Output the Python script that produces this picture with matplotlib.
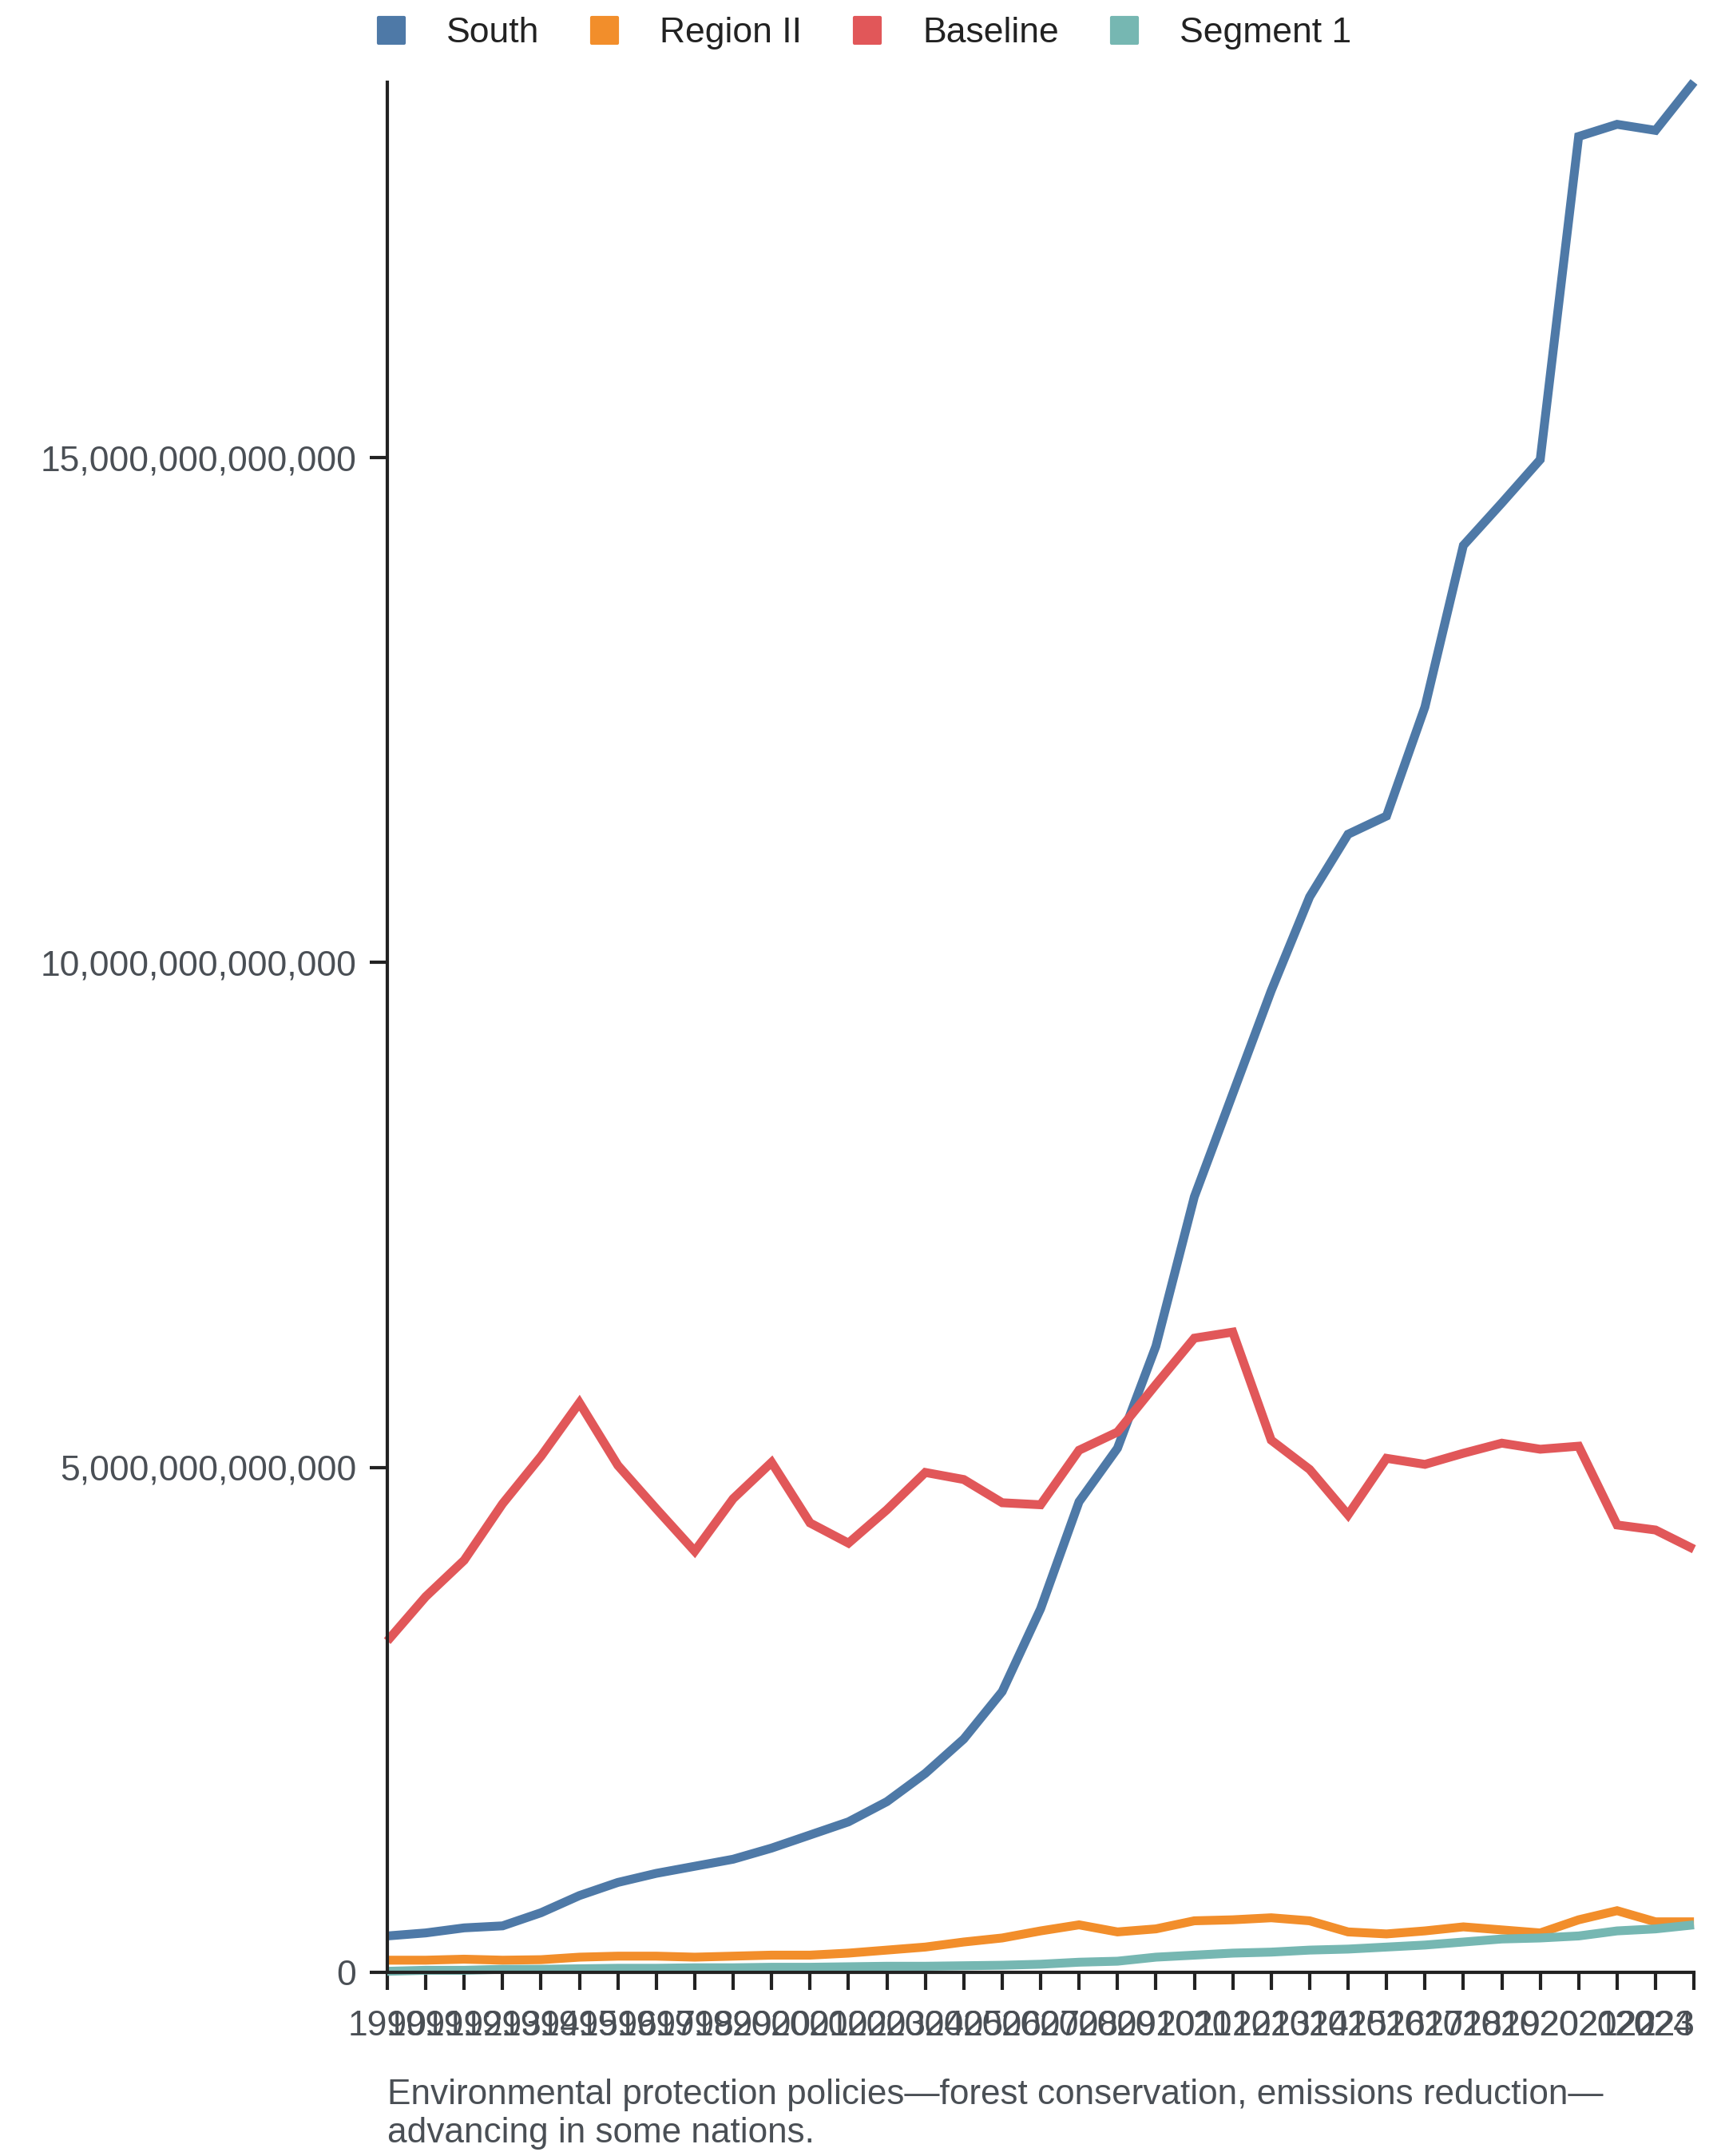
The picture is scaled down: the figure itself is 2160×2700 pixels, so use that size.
import numpy as np
import matplotlib
matplotlib.use("Agg")
import matplotlib.pyplot as plt
from matplotlib.lines import Line2D
from matplotlib.markers import MarkerStyle
from matplotlib.ticker import FuncFormatter

plt.rcParams['font.family'] = ['Liberation Sans', 'DejaVu Sans']

years = list(range(1990, 2025))

# values in trillions
south = [0.36, 0.39, 0.44, 0.46, 0.59, 0.76, 0.89, 0.98, 1.05, 1.12,
         1.23, 1.36, 1.49, 1.69, 1.97, 2.31, 2.78, 3.60, 4.66, 5.19,
         6.20, 7.68, 8.70, 9.72, 10.65, 11.27, 11.45, 12.53, 14.13, 14.55,
         14.98, 18.18, 18.30, 18.24, 18.72]
region2 = [0.12, 0.12, 0.13, 0.12, 0.125, 0.15, 0.16, 0.16, 0.15, 0.16,
           0.17, 0.17, 0.19, 0.22, 0.25, 0.30, 0.34, 0.41, 0.47, 0.40,
           0.43, 0.51, 0.52, 0.54, 0.51, 0.40, 0.38, 0.41, 0.45, 0.42,
           0.39, 0.52, 0.61, 0.50, 0.50]
baseline = [3.28, 3.72, 4.08, 4.64, 5.11, 5.64, 5.02, 4.59, 4.17, 4.69,
            5.05, 4.45, 4.25, 4.58, 4.95, 4.88, 4.65, 4.63, 5.17, 5.35,
            5.82, 6.28, 6.34, 5.27, 4.98, 4.53, 5.09, 5.03, 5.14, 5.24,
            5.18, 5.21, 4.43, 4.38, 4.19]
segment1 = [0.01, 0.02, 0.02, 0.03, 0.03, 0.035, 0.04, 0.04, 0.045, 0.045,
            0.05, 0.05, 0.055, 0.06, 0.06, 0.065, 0.07, 0.08, 0.10, 0.11,
            0.15, 0.17, 0.19, 0.20, 0.22, 0.23, 0.25, 0.27, 0.30, 0.33,
            0.34, 0.36, 0.41, 0.43, 0.47]

names = ["South", "Region II", "Baseline", "Segment 1"]
colors = ["#4e79a7", "#f28e2b", "#e15759", "#76b7b2"]
series = [south, region2, baseline, segment1]

caption = ("Environmental protection policies\u2014forest conservation, emissions reduction\u2014\n"
           "advancing in some nations.")

fig = plt.figure(figsize=(10.8, 13.5), dpi=200)
ax = fig.add_axes([0.2245, 0.0852, 0.982 - 0.2245, 0.962 - 0.0852])

for vals, c in zip(series, colors):
    ax.plot(years, np.array(vals) * 1e12, color=c, lw=4, solid_joinstyle='miter',
            solid_capstyle='butt', clip_on=False)

ymax = max(south) * 1e12
ax.set_xlim(years[0], years[-1])
ax.set_ylim(0, ymax)

ax.set_yticks([0, 5e12, 10e12, 15e12])
ax.yaxis.set_major_formatter(FuncFormatter(lambda v, p: f"{v:,.0f}"))
ax.set_xticks(years)
ax.set_xticklabels([str(y) for y in years])
ax.get_xticklabels()[-1].set_ha('right')

for s in ['top', 'right']:
    ax.spines[s].set_visible(False)
for s in ['left', 'bottom']:
    ax.spines[s].set_color('#222222')
    ax.spines[s].set_linewidth(1.5)

ax.tick_params(axis='both', length=8, width=1.5, color='#222222',
               labelsize=16, labelcolor='#4a4f55')
ax.tick_params(axis='x', pad=9)
ax.tick_params(axis='y', pad=6)

sq = MarkerStyle('s', joinstyle='round')
handles = [Line2D([], [], ls='none', marker=sq, markersize=11.5, color=c,
                  markeredgewidth=1.5) for c in colors]
fig.legend(handles, names, loc='center', bbox_to_anchor=(0.5, 0.9845), ncol=4,
           frameon=False, fontsize=16, handletextpad=1.05, columnspacing=1.35,
           handlelength=1.0, labelcolor='#222222')

fig.text(0.2245, 0.0359, caption, fontsize=15.9, color='#4a4f55',
         ha='left', va='top', linespacing=1.22)

fig.savefig("out.png", dpi=200)
